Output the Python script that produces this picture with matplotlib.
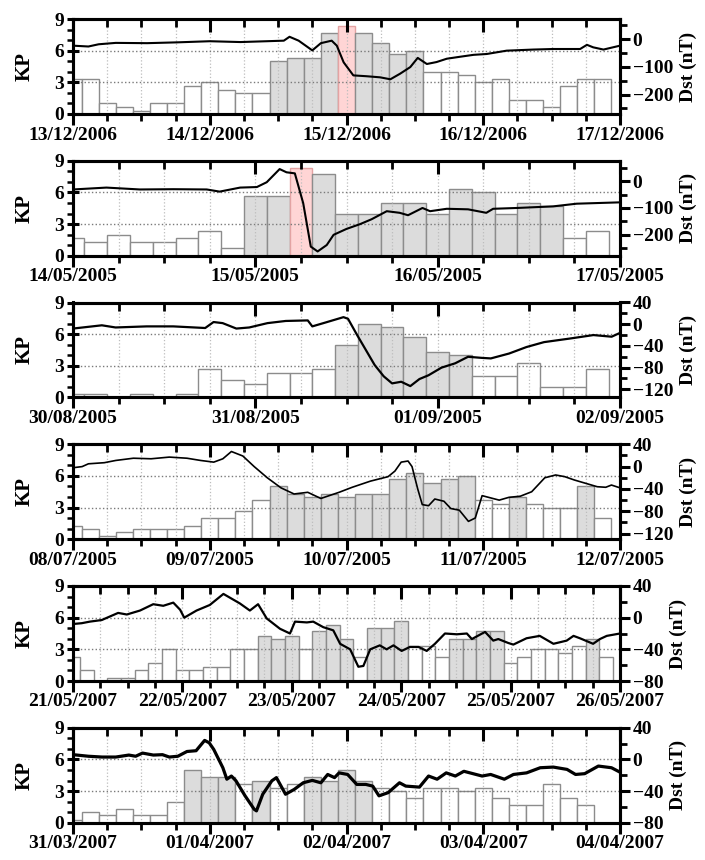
import matplotlib.pyplot as plt
from matplotlib.ticker import MultipleLocator
import numpy as np

plt.rcParams['font.family'] = ['Liberation Serif', 'DejaVu Serif']
plt.rcParams['font.weight'] = 'bold'

# ---- panel 1 : 13-17/12/2006
dates_1 = ['13/12/2006', '14/12/2006', '15/12/2006', '16/12/2006', '17/12/2006']
kp_1 = [3.3, 3.3, 1.0, 0.7, 0.3, 1.0, 1.0, 2.7, 3.0, 2.3, 2.0, 2.0,
        5.0, 5.3, 5.3, 7.7, 8.3, 7.7, 6.7, 5.7, 6.0, 4.0, 4.0, 3.7,
        3.0, 3.3, 1.3, 1.3, 0.7, 2.7, 3.3, 3.3]
storm_1 = [12, 13, 14, 15, 17, 18, 19, 20]
peak_1 = 16
dst_t_1 = [0, 2.7, 4.5, 7.5, 13, 18.4, 24, 29.4, 34, 37, 38, 39.6, 42, 43.5, 45.4,
           46.3, 47.5, 49.2, 51.5, 53.9, 55.7, 57.4, 59.2, 60.5, 62.1, 63.8, 65.6,
           67.9, 70.3, 72.6, 76.1, 80.8, 84.3, 89, 90.2, 91.3, 93.1, 96]
dst_1 = [-24, -27, -19, -14, -15, -12, -8, -11, -8, -6, 8, -6, -41, -15, -6,
         -24, -84, -131, -134, -138, -145, -125, -101, -68, -90, -83, -71,
         -64, -57, -54, -42, -38, -36, -36, -21, -30, -38, -24]

# ---- panel 2 : 14-17/05/2005
dates_2 = ['14/05/2005', '15/05/2005', '16/05/2005', '17/05/2005']
kp_2 = [1.7, 1.3, 2.0, 1.3, 1.3, 1.7, 2.3, 0.7,
        5.7, 5.7, 8.3, 7.7, 4.0, 4.0, 5.0, 5.0,
        4.0, 6.3, 6.0, 4.0, 5.0, 4.7, 1.7, 2.3]
storm_2 = [8, 9, 11, 12, 13, 14, 15, 16, 17, 18, 19, 20, 21]
peak_2 = 10
dst_t_2 = [0, 4.4, 8.8, 13.2, 17.6, 19.3, 22, 24.2, 25.5, 27.2, 28.1, 29.2, 30.3,
           31.3, 32.2, 33.4, 34.3, 36, 37.8, 39.3, 41.3, 43, 44.1, 46, 47,
           49.2, 52, 54.4, 55.3, 58.4, 63.2, 66.3, 72]
dst_2 = [-31, -24, -31, -30, -31, -39, -24, -22, -4, 45, 33, 29, -82,
         -244, -262, -238, -200, -178, -160, -142, -112, -118, -127, -100, -112,
         -103, -105, -118, -103, -100, -94, -84, -79]

# ---- panel 3 : 30/08-02/09/2005
dates_3 = ['30/08/2005', '31/08/2005', '01/09/2005', '02/09/2005']
kp_3 = [0.3, 0.3, 0.0, 0.3, 0.0, 0.3, 2.7, 1.7,
        1.3, 2.3, 2.3, 2.7, 5.0, 7.0, 6.7, 5.7,
        4.3, 4.0, 2.0, 2.0, 3.3, 1.0, 1.0, 2.7]
storm_3 = [12, 13, 14, 15, 16, 17]
peak_3 = None
dst_t_3 = [0, 3.8, 5.6, 9.7, 13.2, 17.4, 18.5, 19.7, 21.5, 23.2, 25.6, 28, 30.9,
           31.5, 33.2, 35.6, 36.2, 37.4, 39.7, 40.9, 42, 43.2, 44.4, 45.6, 46.8,
           48.5, 50.3, 52, 53.8, 55, 57.4, 59.7, 62, 65.6, 68.5, 70.9, 72]
dst_3 = [-8, -2, -6, -4, -4, -7, 4, 2, -8, -6, 2, 6, 7,
         -4, 3, 13, 10, -20, -75, -96, -109, -106, -114, -101, -94,
         -80, -72, -60, -62, -63, -54, -42, -33, -26, -20, -23, -16]

# ---- panel 4 : 08-12/07/2005
dates_4 = ['08/07/2005', '09/07/2005', '10/07/2005', '11/07/2005', '12/07/2005']
kp_4 = [1.3, 1.0, 0.3, 0.7, 1.0, 1.0, 1.0, 1.3, 2.0, 2.0, 2.7, 3.7,
        5.0, 4.3, 4.0, 4.3, 4.0, 4.3, 4.3, 5.7, 6.3, 5.3, 5.7, 6.0,
        3.7, 3.3, 4.0, 3.3, 3.0, 3.0, 5.0, 2.0]
storm_4 = [12, 13, 14, 15, 16, 17, 18, 19, 20, 21, 22, 23, 26, 30]
peak_4 = None
dst_t_4 = [0, 1.6, 2.7, 5.5, 7.5, 10.6, 13.7, 16.9, 20, 22.4, 24.7, 26.3, 27.8,
           29.8, 31.8, 34.1, 36.5, 38.8, 41.2, 43.5, 46.7, 49, 52.2, 55.3, 56.5,
           57.6, 58.8, 59.5, 60.5, 61.3, 62.4, 63.5, 65.1, 66.3, 67.8, 69.4, 70.6,
           71.8, 73.3, 74.8, 76.5, 78.5, 80.5, 82.8, 84.7, 86.3, 88, 90, 92,
           93.5, 94.5, 96]
dst_4 = [-2, 0, 5, 7, 11, 15, 14, 17, 15, 11, 8, 14, 27,
         19, 0, -20, -38, -49, -46, -57, -46, -37, -26, -18, -8,
         8, 10, 0, -40, -68, -70, -58, -62, -75, -78, -98, -92,
         -52, -56, -60, -55, -53, -45, -20, -15, -18, -24, -30, -36,
         -37, -33, -38]

# ---- panel 5 : 21-26/05/2007
dates_5 = ['21/05/2007', '22/05/2007', '23/05/2007', '24/05/2007', '25/05/2007', '26/05/2007']
kp_5 = [2.3, 1.0, 0.0, 0.3, 0.3, 1.0, 1.7, 3.0, 1.0, 1.0, 1.3, 1.3,
        3.0, 3.0, 4.3, 4.0, 4.3, 3.0, 4.7, 5.3, 4.0, 2.3, 5.0, 5.0,
        5.7, 3.3, 3.3, 2.3, 4.0, 4.0, 4.7, 4.7, 1.7, 2.3, 3.0, 3.0,
        2.7, 3.3, 4.0, 2.3]
storm_5 = [14, 15, 16, 18, 19, 20, 22, 23, 24, 28, 29, 30, 31, 38]
peak_5 = None
dst_t_5 = [0, 1.9, 3.7, 6.3, 9.9, 11.8, 14.7, 17.6, 19.8, 22, 23.5, 24.4, 27.1,
           30, 33, 36.6, 38.8, 40.6, 42.5, 45.4, 47.6, 48.7, 51.3, 52.7, 54.9,
           57.1, 58.6, 60.8, 62.6, 63.7, 65.2, 67.3, 68.8, 70.3, 72.1, 73.9, 75.8,
           77.6, 79.4, 81.6, 84.2, 86.4, 87.5, 90.4, 92.2, 93.3, 95.5, 96.6, 99.5,
           102.4, 105.4, 108.3, 109.8, 111.2, 114.1, 115.6, 117.1, 120]
dst_5 = [-8, -7, -5, -3, 6, 4, 9, 17, 15, 19, 10, 0, 9,
         16, 30, 18, 9, 17, -1, -14, -20, -5, -6, -5, -12,
         -16, -33, -40, -62, -61, -40, -35, -40, -35, -42, -37, -37,
         -42, -33, -20, -21, -20, -27, -18, -29, -27, -32, -34, -26,
         -23, -33, -29, -23, -26, -33, -27, -23, -20]

# ---- panel 6 : 31/03-04/04/2007
dates_6 = ['31/03/2007', '01/04/2007', '02/04/2007', '03/04/2007', '04/04/2007']
kp_6 = [0.3, 1.0, 0.7, 1.3, 0.7, 0.7, 2.0, 5.0, 4.3, 4.3, 3.7, 4.0,
        3.3, 3.7, 4.3, 4.0, 5.0, 4.0, 3.3, 3.0, 2.3, 3.3, 3.3, 3.0,
        3.3, 2.3, 1.7, 1.7, 3.7, 2.3, 1.7, 0.0]
storm_6 = [7, 8, 9, 11, 14, 15, 16, 17]
peak_6 = None
dst_t_6 = [0, 2.7, 5.1, 7.5, 9.8, 11, 12.2, 14.1, 15.7, 16.9, 18.4, 20, 21.6,
           23.1, 23.9, 24.7, 26.3, 27, 27.8, 28.6, 30.2, 31.8, 32.2, 33.3, 34.9,
           35.7, 37.3, 38.8, 40.4, 42, 43.5, 44.7, 45.9, 46.7, 48.2, 49.8, 51.4,
           52.6, 53.7, 55.3, 57.3, 58.4, 60.8, 62.4, 63.9, 65.5, 67.1, 68.6, 71.8,
           73.3, 75.7, 77.3, 79.6, 82, 84.3, 86.7, 88.2, 89.8, 92.2, 94.5, 95.7]
dst_6 = [6, 4, 3, 3, 5.5, 4, 8, 5.5, 6, 3, 4, 10, 11,
         24, 21, 12.6, -10.5, -25, -21, -27, -46, -63, -65, -44, -27,
         -23, -44, -38, -29.5, -26.5, -29.5, -19, -23, -17, -19, -31.6, -31.6,
         -33.7, -46, -42, -29.5, -33.7, -35, -21, -25, -17, -21, -15, -21,
         -19, -25, -19, -17, -10.5, -9.7, -12.6, -19, -18, -8.4, -10.5, -15]

panels = [
    (dates_1, kp_1, storm_1, peak_1, dst_t_1, dst_1, (-270, 72), 100, 1.5),
    (dates_2, kp_2, storm_2, peak_2, dst_t_2, dst_2, (-278, 76), 100, 1.5),
    (dates_3, kp_3, storm_3, peak_3, dst_t_3, dst_3, (-135, 40), 40, 1.6),
    (dates_4, kp_4, storm_4, peak_4, dst_t_4, dst_4, (-130, 40), 40, 1.2),
    (dates_5, kp_5, storm_5, peak_5, dst_t_5, dst_5, (-80, 40), 40, 1.6),
    (dates_6, kp_6, storm_6, peak_6, dst_t_6, dst_6, (-80, 40), 40, 2.3),
]

fig = plt.figure(figsize=(7.05, 8.6), dpi=100)

H = 860.0
left = 73 / 705.0
width = (620 - 73) / 705.0
for k, (dates, kp, storm, peak, dst_t, dst, dst_lim, dst_step, lw) in enumerate(panels):
    top = 19 + 141.75 * k
    rect = [left, 1 - (top + 95) / H, width, 95 / H]
    ax = fig.add_axes(rect)
    ndays = len(dates) - 1
    hours = np.arange(len(kp)) * 3

    # kp bars: white = quiet, grey = storm, pink = maximum
    fills, edges = [], []
    for i in range(len(kp)):
        if i == peak:
            fills.append('#ffd5d5')
            edges.append('#e3a3a3')
        elif i in storm:
            fills.append('#dcdcdc')
            edges.append('#8c8c8c')
        else:
            fills.append('white')
            edges.append('#8c8c8c')
    ax.bar(hours, kp, width=3, color=fills, edgecolor=edges, linewidth=1.0, zorder=1)

    ax.set_xlim(0, ndays * 24)
    ax.set_ylim(0, 9)
    ax.set_xticks(np.arange(ndays + 1) * 24)
    ax.set_xticklabels(dates)
    ax.xaxis.set_minor_locator(MultipleLocator(6))
    ax.set_yticks([0, 3, 6, 9])
    ax.yaxis.set_minor_locator(MultipleLocator(1))
    ax.set_axisbelow(False)
    ax.grid(axis='x', which='both', color='#bdbdbd', linestyle=':', linewidth=0.9)
    ax.grid(axis='y', which='major', color='#7a7a7a', linestyle=':', linewidth=1.0)

    ax.tick_params(axis='x', which='major', direction='out', length=8, width=2.2,
                   labelsize=14, pad=1)
    ax.tick_params(axis='x', which='minor', direction='out', length=5, width=2.0)
    ax.tick_params(axis='y', which='major', direction='inout', length=9, width=2.2,
                   labelsize=14, pad=2)
    ax.tick_params(axis='y', which='minor', direction='out', length=4, width=1.8)
    ax.set_ylabel('KP', fontsize=15, fontweight='bold', labelpad=14)

    # Dst on the right axis
    ax2 = ax.twinx()
    ax2.plot(dst_t, dst, color='black', linewidth=lw, zorder=5)
    ax2.set_ylim(dst_lim)
    ax2.yaxis.set_major_locator(MultipleLocator(dst_step))
    ax2.yaxis.set_minor_locator(MultipleLocator(dst_step / 2))
    ax2.tick_params(axis='y', which='major', direction='out', length=7, width=2.2,
                    labelsize=14, pad=2)
    ax2.tick_params(axis='y', which='minor', direction='out', length=5, width=2.0)
    ax2.set_ylabel('Dst (nT)', fontsize=14, fontweight='bold', labelpad=5)

    # top ticks pointing inward, on a transparent overlay
    axt = fig.add_axes(rect, frameon=False)
    axt.set_xlim(0, ndays * 24)
    axt.set_xticks(np.arange(ndays + 1) * 24)
    axt.xaxis.set_minor_locator(MultipleLocator(6))
    axt.xaxis.set_ticks_position('top')
    axt.tick_params(axis='x', which='both', direction='in', labeltop=False,
                    labelbottom=False)
    axt.tick_params(axis='x', which='major', length=9, width=2.2)
    axt.tick_params(axis='x', which='minor', length=6, width=2.0)
    axt.set_yticks([])

    for a in (ax, ax2):
        for s in a.spines.values():
            s.set_linewidth(2.2)

fig.savefig('out.png', dpi=100)
